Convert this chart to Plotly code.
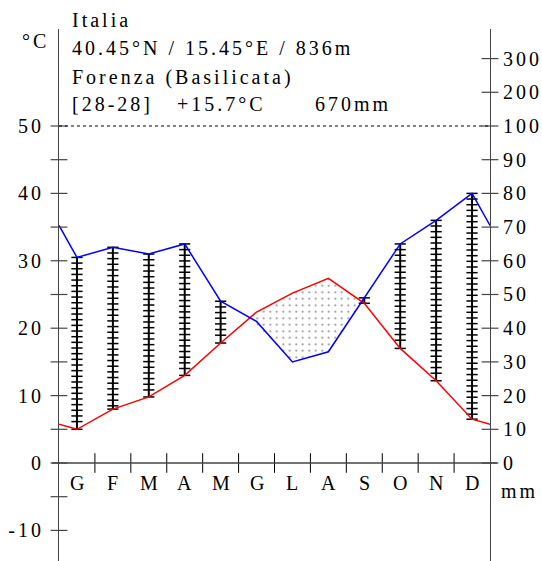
import plotly.graph_objects as go

# ---------------- data ----------------
months = ["G", "F", "M", "A", "M", "G", "L", "A", "S", "O", "N", "D"]
temp = [5.0, 8.0, 9.8, 13.0, 17.8, 22.4, 25.2, 27.4, 23.7, 17.0, 12.2, 6.5]   # °C
precip = [61, 64, 62, 65, 48, 42, 30, 33, 49, 65, 72, 80]                      # mm
left_ticks = [-10, 0, 10, 20, 30, 40, 50]
right_labels = ["0", "10", "20", "30", "40", "50", "60", "70", "80", "90", "100", "200", "300"]
right_mm = [0, 10, 20, 30, 40, 50, 60, 70, 80, 90, 100, 200, 300]
header_country = "Italia"
header_coords = "40.45°N / 15.45°E / 836m"
header_station = "Forenza (Basilicata)"
header_years = "[28-28]"
header_temp = "+15.7°C"
header_prec = "670mm"
unit_left = "°C"
unit_right = "mm"

FONT = "Liberation Serif, Times New Roman, serif"
FS = 20
LS = 3.0  # letter spacing (px)


def spaced(s, ls=LS):
    return '<span style="letter-spacing:%.1fpx">%s</span>' % (ls, s)


def mm_to_c(mm):
    # Walter-Lieth scale: 20 mm = 10 °C up to 100 mm, compressed x1/10 above
    return mm / 2.0 if mm <= 100 else 50 + (mm - 100) / 20.0


pc = [mm_to_c(p) for p in precip]
te = (temp[0] + temp[-1]) / 2
pe = (pc[0] + pc[-1]) / 2
xs = [0] + [i + 0.5 for i in range(12)] + [12]
T = [te] + temp + [te]
P = [pe] + pc + [pe]

fig = go.Figure()

# ---------------- arid (dotted) area ----------------
polys = []
cur = None
for k in range(len(xs) - 1):
    d0 = P[k] - T[k]
    d1 = P[k + 1] - T[k + 1]
    if d0 < 0 and cur is None:
        cur = [(xs[k], T[k], P[k])]
    if (d0 < 0) != (d1 < 0):
        f = d0 / (d0 - d1)
        xc = xs[k] + f * (xs[k + 1] - xs[k])
        yc = T[k] + f * (T[k + 1] - T[k])
        if cur is None:
            cur = [(xc, yc, yc)]
        else:
            cur.append((xc, yc, yc))
            polys.append(cur)
            cur = None
    elif d1 < 0 and cur is not None:
        cur.append((xs[k + 1], T[k + 1], P[k + 1]))
if cur is not None:
    polys.append(cur)

for poly in polys:
    px = [p[0] for p in poly] + [p[0] for p in reversed(poly)]
    py = [p[1] for p in poly] + [p[2] for p in reversed(poly)]
    fig.add_trace(go.Scatter(
        x=px, y=py, mode="lines", fill="toself", line=dict(width=0, color="rgba(0,0,0,0)"),
        fillcolor="white",
        fillpattern=dict(shape=".", size=6.5, solidity=0.07, fgcolor="black", bgcolor="white"),
        hoverinfo="skip", showlegend=False))

# ---------------- humid ladders ----------------
step = 0.84
lx, ly, tx, ty = [], [], [], []
for i in range(12):
    if pc[i] > temp[i]:
        x = i + 0.5
        lx += [x, x, None]
        ly += [temp[i], pc[i], None]
        v = pc[i]
        while v > temp[i] + 0.5 * step:
            tx.append(x)
            ty.append(v)
            v -= step
        tx.append(x)
        ty.append(temp[i])
fig.add_trace(go.Scatter(x=lx, y=ly, mode="lines", line=dict(color="black", width=2),
                         hoverinfo="skip", showlegend=False))
fig.add_trace(go.Scatter(x=tx, y=ty, mode="markers",
                         marker=dict(symbol="line-ew", size=8, line=dict(color="black", width=1.5)),
                         hoverinfo="skip", showlegend=False))

# ---------------- temperature & precipitation lines ----------------
fig.add_trace(go.Scatter(x=xs, y=T, mode="lines", line=dict(color="red", width=1.5),
                         hoverinfo="skip", showlegend=False))
fig.add_trace(go.Scatter(x=xs, y=P, mode="lines", line=dict(color="blue", width=1.5),
                         hoverinfo="skip", showlegend=False))

# ---------------- axis ticks (crossing the axes) ----------------
AX = "#444"
lt = list(range(-10, 55, 5))
fig.add_trace(go.Scatter(x=[0] * len(lt), y=lt, mode="markers", cliponaxis=False,
                         marker=dict(symbol="line-ew", size=12, line=dict(color=AX, width=1.2)),
                         hoverinfo="skip", showlegend=False))
rt = [mm_to_c(m) for m in right_mm]
fig.add_trace(go.Scatter(x=[12] * len(rt), y=rt, mode="markers", cliponaxis=False,
                         marker=dict(symbol="line-ew", size=12, line=dict(color=AX, width=1.2)),
                         hoverinfo="skip", showlegend=False))
fig.add_trace(go.Scatter(x=list(range(1, 12)), y=[0] * 11, mode="markers", cliponaxis=False,
                         marker=dict(symbol="line-ns", size=14, line=dict(color="black", width=1)),
                         hoverinfo="skip", showlegend=False))

YR = [-14.54, 64.39]

shapes = [
    dict(type="line", xref="paper", yref="y", x0=-0.0165, x1=1.0165, y0=0, y1=0,
         line=dict(color=AX, width=1.6), layer="above"),
    dict(type="line", xref="x", yref="y", x0=0, x1=12, y0=50, y1=50,
         line=dict(color="black", width=1, dash="dot"), layer="above"),
]

ann = []


def xpix(p):
    return (p - 59) / 431.0


def ypix(p):
    return (561 - p) / 532.0


def add_text(px_, py_, text, xanchor="left", size=FS):
    ann.append(dict(x=xpix(px_), y=ypix(py_), xref="paper", yref="paper", text=text,
                    showarrow=False, xanchor=xanchor, yanchor="middle",
                    font=dict(family=FONT, size=size, color="black")))


add_text(70, 20, spaced(header_country))
add_text(70, 48.5, spaced(header_coords))
add_text(70, 77, spaced(header_station))
add_text(70, 104.5, spaced(header_years))
add_text(175, 104.5, spaced(header_temp))
add_text(313, 104.5, spaced(header_prec))
add_text(35, 41, spaced(unit_left), xanchor="center")
for i, m in enumerate(months):
    add_text(59 + (i + 0.5) * 431 / 12, 483, m, xanchor="center")
add_text(519, 491, spaced(unit_right), xanchor="center")

fig.update_layout(
    width=542, height=561,
    margin=dict(l=59, r=52, t=29, b=0, autoexpand=False),
    paper_bgcolor="white", plot_bgcolor="white",
    showlegend=False,
    shapes=shapes, annotations=ann,
    xaxis=dict(range=[0, 12], showgrid=False, zeroline=False, showline=False, automargin=False,
               showticklabels=False, ticks="", fixedrange=True),
    yaxis=dict(range=YR, showgrid=False, zeroline=False, showline=True, linecolor=AX, linewidth=1.2,
               automargin=False,
               tickvals=left_ticks, ticktext=[spaced(str(v)) for v in left_ticks], ticks="",
               ticklabelstandoff=10,
               tickfont=dict(family=FONT, size=FS, color="black")),
    yaxis2=dict(range=YR, overlaying="y", side="right", showgrid=False, zeroline=False,
                showline=True, linecolor=AX, linewidth=1.2, automargin=False,
                tickvals=rt, ticktext=[spaced(s) for s in right_labels], ticks="",
                ticklabelstandoff=8,
                tickfont=dict(family=FONT, size=FS, color="black")),
)
fig.add_trace(go.Scatter(x=[None], y=[None], yaxis="y2", showlegend=False, hoverinfo="skip"))

fig.write_html("out.html", config={"displayModeBar": False},
               post_script="document.body.style.margin='0px';")
